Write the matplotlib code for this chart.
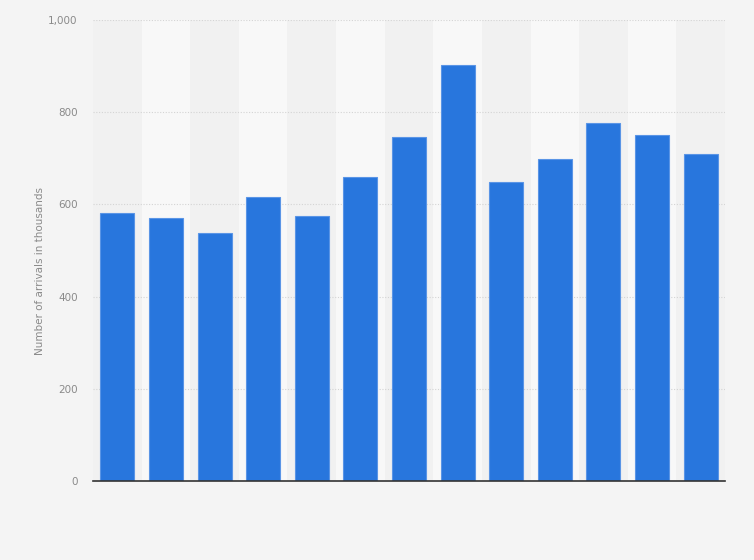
import matplotlib
matplotlib.use("Agg")
import matplotlib.pyplot as plt
import numpy as np

categories = ["2008", "2009", "2010", "2011", "2012", "2013", "2014",
              "2015", "2016", "2017", "2018", "2019", "2020"]
arrivals = [581, 570, 538, 616, 575, 659, 746, 902, 649, 698, 777, 751, 709]
yticks = [0, 200, 400, 600, 800, 1000]
ytick_labels = ["0", "200", "400", "600", "800", "1,000"]

fig = plt.figure(figsize=(7.54, 5.6), dpi=100)
fig.patch.set_facecolor("#f4f4f4")
ax = fig.add_axes([93/754, 79/560, 632/754, 461/560])
ax.set_facecolor("#f4f4f4")

x = np.arange(len(categories))
for i in x:
    ax.axvspan(i - 0.5, i + 0.5, color="#f1f1f1" if i % 2 == 0 else "#f8f8f8", zorder=0, lw=0)

ax.bar(x, arrivals, width=0.7, color="#2876dd", edgecolor="#5a95e6", linewidth=0.8, zorder=3)

ax.set_xlim(-0.5, len(categories) - 0.5)
ax.set_ylim(0, 1000)
ax.set_yticks(yticks)
ax.set_yticklabels(ytick_labels, fontsize=7.5, color="#8a8a8a")
ax.set_xticks([])
ax.tick_params(axis="y", length=0, pad=11)
ax.yaxis.grid(True, linestyle=(0, (1, 1.5)), color="#d4d4d4", linewidth=0.8, zorder=1)
for s in ["top", "right", "left"]:
    ax.spines[s].set_visible(False)
ax.spines["bottom"].set_color("#333333")
ax.spines["bottom"].set_linewidth(1.2)
ax.spines["bottom"].set_zorder(4)

fig.text(40/754, 0.5 + 9/560, "Number of arrivals in thousands", rotation=90,
         fontsize=7.5, color="#8a8a8a", ha="center", va="center")

fig.savefig("out.png", dpi=100, facecolor=fig.get_facecolor())
